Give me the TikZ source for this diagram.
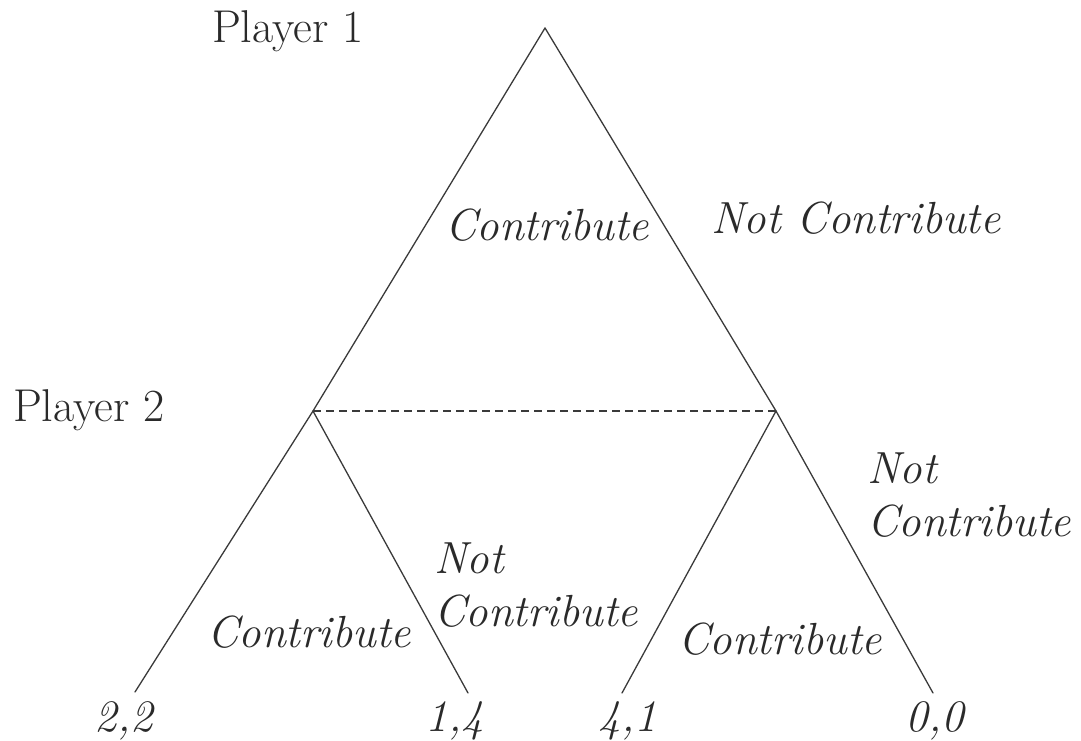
\documentclass[tikz,border=0pt]{standalone}
\definecolor{ink}{HTML}{2A2A2A}
\definecolor{linecol}{HTML}{3A3A3A}
\begin{document}
\begin{tikzpicture}[x=1pt,y=-1pt,
  every node/.style={inner sep=0pt, outer sep=0pt, text=ink},
  txt/.style={font=\fontsize{46}{53}\selectfont, anchor=base west},
  lbl/.style={font=\fontsize{45}{53}\selectfont\itshape, anchor=base west, align=left},
  payoff/.style={font=\fontsize{45}{53}\selectfont\itshape, anchor=base},
  branch/.style={draw=linecol, line width=1.3pt, line cap=round},
  infoset/.style={draw=linecol, line width=1.2pt, dash pattern=on 8pt off 5pt}]
\useasboundingbox (0,0) rectangle (1081,741);
% decision nodes and terminal points
\coordinate (root) at (545,28);
\coordinate (p2l) at (313,411);
\coordinate (p2r) at (776,411);
\coordinate (t1) at (135,692);
\coordinate (t2) at (468,693);
\coordinate (t3) at (622,693);
\coordinate (t4) at (933,693);
% branches
\draw[branch] (root) -- (p2l);
\draw[branch] (root) -- (p2r);
\draw[branch] (p2l) -- (t1);
\draw[branch] (p2l) -- (t2);
\draw[branch] (p2r) -- (t3);
\draw[branch] (p2r) -- (t4);
\draw[infoset] (p2l) -- (p2r);
% player labels
\node[txt] (pl1) at (212,43) {Player 1};
\node[txt] (pl2) at (13,421) {Player 2};
% action labels
\node[lbl] (a1) at (445,240) {Contribute};
\node[lbl] (a2) at (711,233) {Not Contribute};
\node[lbl] (a3) at (207,647) {Contribute};
\node[lbl] (a4) at (434,626) {Not\\Contribute};
\node[lbl] (a5) at (678,654) {Contribute};
\node[lbl] (a6) at (867,536) {Not\\Contribute};
% payoffs
\node[payoff] (v1) at (124,731) {2,2};
\node[payoff] (v2) at (455,731) {1,4};
\node[payoff] (v3) at (628,731) {4,1};
\node[payoff] (v4) at (935,731) {0,0};
\end{tikzpicture}
\end{document}
